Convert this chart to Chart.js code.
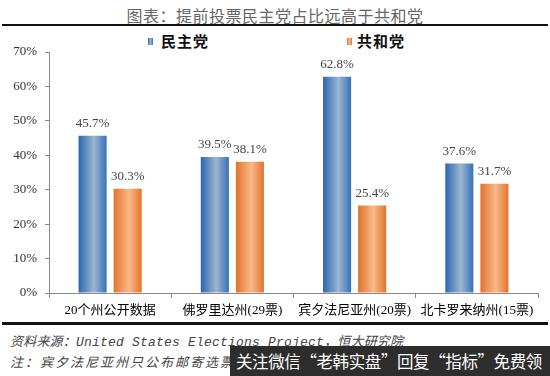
<!DOCTYPE html>
<html>
<head>
<meta charset="utf-8">
<script src="https://cdn.jsdelivr.net/npm/chart.js@4.4.1/dist/chart.umd.min.js"></script>
<style>
  body { margin: 0; background: #fff; }
  #wrap { position: relative; width: 550px; height: 376px; overflow: hidden; font-family: "Noto Sans CJK SC", sans-serif; }
  .abs { position: absolute; white-space: nowrap; }
  #title { top: 3px; left: 0; width: 550px; text-align: center; font-size: 16px; color: #666; letter-spacing: 0.5px; }
  .rule { position: absolute; left: 2px; width: 546px; background: #111; }
  .legbox { position: absolute; width: 5px; height: 7px; }
  .legtxt { font-size: 15px; font-weight: bold; color: #111; letter-spacing: 1px; }
  .foot { left: 10px; font-size: 13px; font-style: italic; color: #444;
          font-family: "Liberation Mono", "Noto Sans CJK SC", monospace; }
  #ad { left: 230px; top: 346px; width: 320px; height: 30px; background: #2d2d2d; color: #fff;
        font-size: 16.5px; line-height: 30px; padding-left: 6px; box-sizing: border-box; letter-spacing: -0.4px; }
  #c { position: absolute; left: 0; top: 28px; }
</style>
</head>
<body>
<div id="wrap">
  <div id="title" class="abs">图表：提前投票民主党占比远高于共和党</div>
  <div class="rule" style="top:24px;height:2px"></div>

  <div class="legbox" style="left:148px;top:38px;background:linear-gradient(90deg,#2f6db4,#9ab4cf,#3a74b8)"></div>
  <div class="abs legtxt" style="left:161px;top:30px">民主党</div>
  <div class="legbox" style="left:347px;top:38px;background:linear-gradient(90deg,#e5772f,#f9b98a,#e6762c)"></div>
  <div class="abs legtxt" style="left:357px;top:30px">共和党</div>

  <canvas id="c" width="550" height="294"></canvas>

  <div class="rule" style="top:322px;height:3px"></div>
  <div class="abs foot" style="top:331px;letter-spacing:0.2px">资料来源：United States Elections Project，恒大研究院</div>
  <div class="abs foot" style="top:352px;letter-spacing:2px">注：宾夕法尼亚州只公布邮寄选票数据</div>
  <div id="ad" class="abs">关注微信“老韩实盘”回复“指标”免费领</div>
</div>

<script>
const categories = ['20个州公开数据', '佛罗里达州(29票)', '宾夕法尼亚州(20票)', '北卡罗来纳州(15票)'];
const seriesNames = ['民主党', '共和党'];
const demValues = [45.7, 39.5, 62.8, 37.6];
const repValues = [30.3, 38.1, 25.4, 31.7];
const yMax = 70;
const yStep = 10;

// horizontal shading of each bar, like the source picture
const gradStops = [
  ['#2a67b1', '#9cb6d0', '#3572b8'],
  ['#e2722a', '#f9b98a', '#e3732a']
];

const barShade = {
  id: 'barShade',
  beforeDatasetsDraw(chart) {
    const ctx = chart.ctx;
    chart.data.datasets.forEach((ds, di) => {
      const stops = gradStops[di];
      chart.getDatasetMeta(di).data.forEach(el => {
        const x0 = el.x - el.width / 2, x1 = el.x + el.width / 2;
        const g = ctx.createLinearGradient(x0, 0, x1, 0);
        g.addColorStop(0, stops[0]);
        g.addColorStop(0.55, stops[1]);
        g.addColorStop(1, stops[2]);
        el.options = { ...el.options, backgroundColor: g };
      });
    });
  }
};

// value labels above the bars
const valueLabels = {
  id: 'valueLabels',
  afterDatasetsDraw(chart) {
    const ctx = chart.ctx;
    ctx.save();
    ctx.font = '13px "Liberation Serif", serif';
    ctx.fillStyle = '#444';
    ctx.textAlign = 'center';
    ctx.textBaseline = 'middle';
    chart.data.datasets.forEach((ds, di) => {
      chart.getDatasetMeta(di).data.forEach((el, i) => {
        ctx.fillText(ds.data[i].toFixed(1) + '%', el.x, el.y - 12);
      });
    });
    ctx.restore();
  }
};

new Chart(document.getElementById('c'), {
  type: 'bar',
  data: {
    labels: categories,
    datasets: [
      { label: seriesNames[0], data: demValues, backgroundColor: '#3a73b8', borderWidth: 0,
        categoryPercentage: 0.574, barPercentage: 0.8 },
      { label: seriesNames[1], data: repValues, backgroundColor: '#e8874a', borderWidth: 0,
        categoryPercentage: 0.574, barPercentage: 0.8 }
    ]
  },
  options: {
    responsive: false,
    animation: false,
    devicePixelRatio: 1,
    layout: { padding: { top: 24, right: 12, left: 0, bottom: 0 } },
    plugins: { legend: { display: false }, tooltip: { enabled: false } },
    scales: {
      x: {
        grid: { drawOnChartArea: false, tickLength: 5, color: '#888', offset: true },
        border: { color: '#888' },
        ticks: { color: '#000', padding: 5, font: { family: '"Liberation Serif", "Noto Sans CJK SC"', size: 13 } },
        afterFit: s => { s.height = 29; }
      },
      y: {
        min: 0,
        max: yMax,
        grid: { drawOnChartArea: false, tickLength: 4, color: '#888' },
        border: { color: '#888' },
        ticks: {
          stepSize: yStep,
          color: '#333',
          padding: 8,
          font: { family: '"Liberation Serif", serif', size: 13 },
          callback: v => v + '%'
        },
        afterFit: s => { s.width = 49; }
      }
    }
  },
  plugins: [barShade, valueLabels]
});
</script>
</body>
</html>
